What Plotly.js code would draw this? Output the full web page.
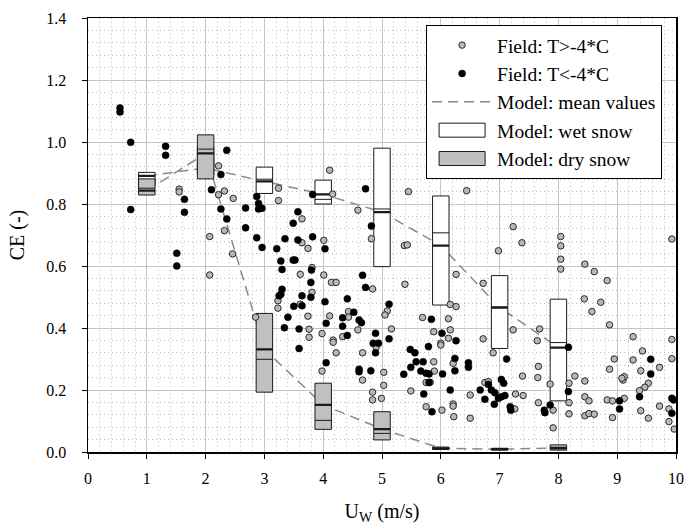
<!DOCTYPE html>
<html><head><meta charset="utf-8">
<script src="https://cdn.plot.ly/plotly-3.0.1.min.js"></script>
<style>body{margin:0;background:#fff;} #chart{width:685px;height:531px;}</style>
</head><body><div id="chart"></div>
<script>
// Field data, T > -4 C (open grey circles)
const warmU = [1.55,1.55,2.22,2.22,2.32,2.47,2.07,2.32,3.24,3.24,3.64,3.64,3.74,4.01,4.11,4.16,4.59,4.82,5.45,6.44,
  5.38,5.43,7.23,7.38,8.04,8.04,9.93,6.98,8.04,8.04,8.45,8.61,8.83,6.26,5.39,6.72,4.84,8.44,8.72,8.57,
  8.87,6.16,6.26,5.09,5.05,5.69,6.13,5.16,4.90,5.88,6.00,6.00,6.16,6.13,6.72,6.89,7.23,7.68,7.64,5.88,
  5.89,6.21,5.75,5.82,5.49,6.50,5.75,6.02,6.21,6.21,6.22,6.50,4.84,4.84,5.03,5.03,4.99,6.75,6.81,7.26,
  7.27,7.40,7.39,7.65,7.66,7.66,7.91,7.91,7.86,8.18,8.18,8.18,8.28,8.45,8.45,8.52,8.45,8.52,8.61,8.83,
  8.92,8.92,9.12,8.95,8.87,9.10,9.12,9.08,9.27,9.43,9.27,9.40,9.72,9.53,9.47,9.38,9.40,9.53,9.72,9.93,
  9.93,9.88,9.88,9.97,2.07,2.46,3.61,3.81,4.01,4.14,4.22,3.23,3.23,3.81,3.61,3.74,3.76,3.76,3.98,4.11,
  4.43,4.43,4.59,4.33,4.17,4.17,4.22,3.98,4.67,4.67,2.85];
const warmCE = [0.848,0.839,0.923,0.830,0.842,0.818,0.695,0.714,0.851,0.811,0.752,0.675,0.657,0.683,0.909,0.832,0.780,0.688,0.840,0.843,
  0.666,0.668,0.727,0.675,0.695,0.665,0.687,0.649,0.622,0.590,0.606,0.582,0.553,0.573,0.541,0.544,0.526,0.494,0.483,0.453,
  0.410,0.476,0.469,0.455,0.442,0.434,0.430,0.397,0.338,0.388,0.351,0.345,0.394,0.367,0.365,0.320,0.394,0.397,0.359,0.291,
  0.261,0.286,0.224,0.225,0.197,0.184,0.146,0.135,0.155,0.148,0.114,0.109,0.193,0.168,0.257,0.215,0.173,0.224,0.227,0.139,
  0.187,0.182,0.245,0.240,0.276,0.159,0.135,0.078,0.219,0.222,0.159,0.123,0.245,0.229,0.178,0.165,0.117,0.124,0.122,0.168,
  0.165,0.111,0.173,0.300,0.267,0.232,0.243,0.238,0.372,0.326,0.297,0.262,0.273,0.222,0.209,0.198,0.133,0.109,0.148,0.363,
  0.301,0.139,0.098,0.074,0.571,0.639,0.573,0.595,0.571,0.547,0.547,0.488,0.464,0.515,0.477,0.438,0.396,0.370,0.382,0.439,
  0.453,0.435,0.394,0.372,0.361,0.354,0.320,0.261,0.320,0.232,0.435];

// Field data, T < -4 C (filled black circles)
const coldU = [0.544,0.544,0.726,1.32,1.32,2.36,0.726,1.64,1.64,2.26,2.10,2.26,2.36,2.68,2.68,2.87,2.90,2.90,2.96,2.87,
  2.96,3.21,3.35,3.49,3.57,3.57,3.82,3.82,4.03,4.72,4.82,1.51,1.51,3.28,3.30,3.49,3.52,3.79,4.67,4.72,
  3.30,3.28,3.25,3.64,3.79,4.03,3.50,3.64,3.40,3.34,3.59,3.59,4.05,4.33,4.33,4.41,4.52,4.61,4.65,4.41,
  4.05,4.61,4.61,4.81,5.12,5.84,4.89,5.12,4.85,4.94,4.89,6.02,6.26,5.79,7.12,8.17,5.48,5.56,5.58,5.70,
  5.49,5.37,5.66,5.75,5.80,6.03,6.24,6.24,6.47,6.47,5.80,5.71,6.16,5.85,6.67,6.75,6.81,6.86,6.92,6.91,
  7.03,7.07,6.98,7.03,7.09,7.18,7.19,7.76,7.77,7.86,8.17,9.04,9.04,9.57,9.57,9.38,9.93,9.96,9.93,3.80];
const coldCE = [1.110,1.097,0.999,0.986,0.957,0.973,0.782,0.815,0.773,0.895,0.846,0.784,0.752,0.787,0.723,0.824,0.802,0.784,0.786,0.691,
  0.660,0.656,0.688,0.738,0.775,0.684,0.694,0.831,0.656,0.849,0.729,0.641,0.600,0.616,0.589,0.619,0.619,0.547,0.570,0.531,
  0.525,0.509,0.504,0.504,0.499,0.485,0.470,0.472,0.435,0.401,0.397,0.334,0.415,0.433,0.406,0.494,0.451,0.426,0.417,0.376,
  0.288,0.267,0.259,0.262,0.477,0.428,0.383,0.365,0.351,0.351,0.320,0.383,0.359,0.340,0.300,0.338,0.331,0.320,0.291,0.291,
  0.273,0.251,0.261,0.254,0.252,0.252,0.302,0.262,0.288,0.273,0.224,0.187,0.200,0.130,0.200,0.170,0.218,0.200,0.191,0.154,
  0.234,0.222,0.173,0.178,0.182,0.146,0.135,0.135,0.127,0.152,0.195,0.165,0.139,0.299,0.252,0.178,0.173,0.168,0.125,0.587];

// Model results per wind speed class
const modelU = [1,2,3,4,5,6,7,8];
const wetQ1     = [0.860,0.895,0.834,0.800,0.598,0.474,0.334,0.165];
const wetMedian = [0.875,0.930,0.880,0.815,0.784,0.707,0.468,0.353];
const wetQ3     = [0.902,0.985,0.919,0.877,0.980,0.826,0.569,0.493];
const wetMean   = [0.891,0.916,0.873,0.831,0.774,0.666,0.466,0.337];
const dryQ1     = [0.829,0.881,0.193,0.073,0.039,0.008,0.006,0.006];
const dryMedian = [0.851,0.977,0.299,0.102,0.060,0.011,0.009,0.010];
const dryQ3     = [0.881,1.023,0.447,0.222,0.130,0.016,0.012,0.023];
const dryMean   = [0.843,0.963,0.331,0.152,0.074,0.012,0.009,0.013];

// Tick labels
const xTickVals = [0,1,2,3,4,5,6,7,8,9,10];
const xTickText = ['0','1','2','3','4','5','6','7','8','9','10'];
const yTickVals = [0,0.2,0.4,0.6,0.8,1.0,1.2,1.4];
const yTickText = ['0.0','0.2','0.4','0.6','0.8','1.0','1.2','1.4'];

const FONT = 'Liberation Serif, Times New Roman, serif';
const dashLine = {color:'#8a8a8a', width:1.5, dash:'10px,6px'};

function boxTrace(name, q1, med, q3, fill, lw, show, rank) {
  return {type:'box', name:name, x:modelU, q1:q1, median:med, q3:q3,
    lowerfence:q1, upperfence:q3, width:0.28, whiskerwidth:0,
    fillcolor:fill, line:{color:'#1a1a1a', width:lw}, boxpoints:false,
    showlegend:show, legendrank:rank, hoverinfo:'skip', xaxis:'x2', yaxis:'y2'};
}

const data = [
  {type:'scatter', mode:'lines', name:'Model: mean values', x:modelU, y:wetMean,
   line:dashLine, legendrank:3, hoverinfo:'skip'},
  {type:'scatter', mode:'lines', name:'dry mean', x:modelU, y:dryMean,
   line:dashLine, showlegend:false, hoverinfo:'skip'},
  boxTrace('Model: wet snow', wetQ1, wetMedian, wetQ3, '#ffffff', 1, true, 4),
  boxTrace('wet mean', wetMean, wetMean, wetMean, 'rgba(0,0,0,0)', 2.2, false, 10),
  boxTrace('Model: dry snow', dryQ1, dryMedian, dryQ3, '#c0c0c0', 1, true, 5),
  boxTrace('dry mean', dryMean, dryMean, dryMean, 'rgba(0,0,0,0)', 2.2, false, 11),
  {type:'scatter', mode:'markers', name:'Field: T>-4*C', x:warmU, y:warmCE,
   marker:{size:6.5, color:'#b8b8b8', line:{color:'#2a2a2a', width:1}},
   legendrank:1, hoverinfo:'skip', xaxis:'x2', yaxis:'y2'},
  {type:'scatter', mode:'markers', name:'Field: T<-4*C', x:coldU, y:coldCE,
   marker:{size:7, color:'#000000', line:{color:'#000', width:0.5}},
   legendrank:2, hoverinfo:'skip', xaxis:'x2', yaxis:'y2'}
];

const layout = {
  width:685, height:531,
  margin:{l:88, r:9, t:18, b:79},
  paper_bgcolor:'#fff', plot_bgcolor:'#fff',
  font:{family:FONT, size:16, color:'#000'},
  boxmode:'overlay',
  showlegend:true,
  xaxis:{range:[0,10], tickmode:'array', tickvals:xTickVals, ticktext:xTickText,
    ticks:'outside', ticklen:5, tickwidth:1, tickcolor:'#000',
    showline:true, linecolor:'#000', linewidth:1.5, mirror:true, zeroline:false,
    showgrid:true, gridcolor:'#c4c4c4', gridwidth:1,
    minor:{tickmode:'linear', tick0:0, dtick:0.2, showgrid:true, gridcolor:'#c0c0c0', griddash:'1px,3px', gridwidth:1, ticks:''},
    tickfont:{family:FONT, size:16, color:'#000'}, ticklabelstandoff:6,
    title:{text:'U<sub>W</sub> (m/s)', font:{family:FONT, size:20, color:'#000'}, standoff:18}},
  yaxis:{range:[0,1.4], tickmode:'array', tickvals:yTickVals, ticktext:yTickText,
    ticks:'outside', ticklen:5, tickwidth:1, tickcolor:'#000',
    showline:true, linecolor:'#000', linewidth:1.5, mirror:true, zeroline:false,
    showgrid:true, gridcolor:'#c4c4c4', gridwidth:1,
    minor:{tickmode:'linear', tick0:0, dtick:0.04, showgrid:true, gridcolor:'#c0c0c0', griddash:'1px,3px', gridwidth:1, ticks:''},
    tickfont:{family:FONT, size:16, color:'#000'}, ticklabelstandoff:12,
    title:{text:'CE (-)', font:{family:FONT, size:20, color:'#000'}, standoff:16}},
  xaxis2:{overlaying:'x', range:[0,10], visible:false, fixedrange:true},
  yaxis2:{overlaying:'y', range:[0,1.4], visible:false, fixedrange:true},
  legend:{x:0.575, y:0.984, xanchor:'left', yanchor:'top', bgcolor:'#fff',
    bordercolor:'#000', borderwidth:1, font:{family:FONT, size:19.5, color:'#000'},
    itemwidth:60, traceorder:'normal'}
};

Plotly.newPlot('chart', data, layout, {staticPlot:true, displayModeBar:false}).then(function(gd){
  // widen the legend swatches of the box traces into flat rectangles
  gd.querySelectorAll('path.legendbox').forEach(function(p){
    p.setAttribute('d', 'M23,7H-23V-7H23Z');
  });
});
</script>
</body></html>
